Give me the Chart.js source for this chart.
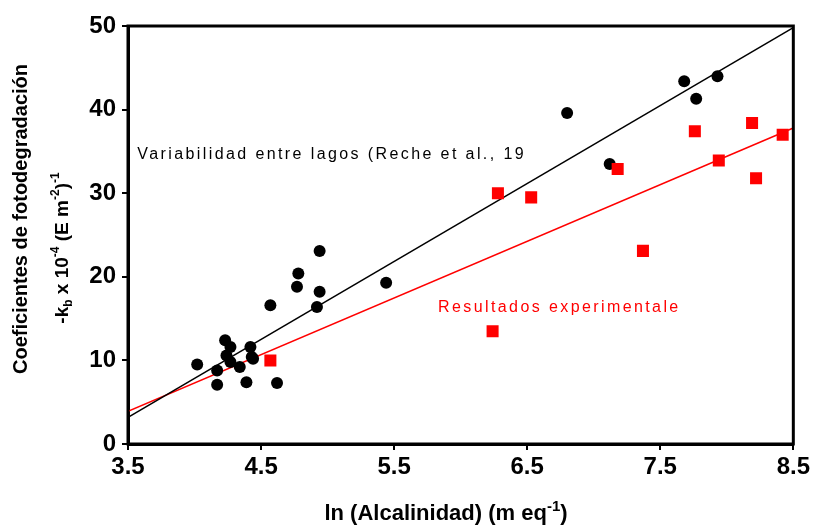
<!DOCTYPE html>
<html>
<head>
<meta charset="utf-8">
<script src="https://cdn.jsdelivr.net/npm/chart.js@4.4.1/dist/chart.umd.min.js"></script>
<style>
  html, body { margin: 0; padding: 0; background: #fff; }
  #wrap { width: 813px; height: 526px; }
</style>
</head>
<body>
<div id="wrap"><canvas id="fotoChart" width="813" height="526"></canvas></div>
<script>
// Variabilidad entre lagos (black points)
const lakesX = [4.02, 4.17, 4.17, 4.23, 4.27, 4.24, 4.27, 4.34, 4.39, 4.42, 4.43, 4.44, 4.62,
                4.57, 4.78, 4.77, 4.94, 4.92, 4.94, 5.44, 6.80, 7.12, 7.68, 7.77, 7.93];
const lakesY = [9.5, 8.8, 7.1, 12.4, 11.6, 10.6, 9.8, 9.2, 7.4, 11.6, 10.4, 10.2, 7.3,
                16.6, 20.4, 18.8, 18.2, 16.4, 23.1, 19.3, 39.6, 33.5, 43.4, 41.3, 44.0];

// Resultados experimentales (red squares)
const expX = [4.57, 6.24, 6.28, 6.53, 7.18, 7.37, 7.76, 7.94, 8.19, 8.22, 8.42];
const expY = [10.0, 13.5, 30.0, 29.5, 32.9, 23.1, 37.4, 33.9, 38.4, 31.8, 37.0];

// Regression lines (end points)
const lakesFitX = [3.5, 8.5];
const lakesFitY = [3.2, 49.8];
const expFitX = [3.5, 8.5];
const expFitY = [3.9, 37.8];

// Axis ticks
const xTicks = [3.5, 4.5, 5.5, 6.5, 7.5, 8.5];
const yTicks = [0, 10, 20, 30, 40, 50];

const toPoints = (xs, ys) => xs.map((x, i) => ({ x: x, y: ys[i] }));

const sans = '"Liberation Sans", Arial, sans-serif';
const tickFont = { family: sans, size: 24, weight: 'bold' };

// Frame, axis titles and in-plot labels
const textPlugin = {
    id: 'texts',
    afterDraw(chart) {
        const ctx = chart.ctx;
        const a = chart.chartArea;
        const xs = chart.scales.x;
        const ys = chart.scales.y;
        ctx.save();

        // box around plot
        ctx.strokeStyle = '#000';
        ctx.lineWidth = 3;
        ctx.strokeRect(a.left, a.top, a.right - a.left, a.bottom - a.top);

        // in-plot labels
        ctx.textBaseline = 'middle';
        ctx.textAlign = 'left';
        ctx.font = '16px ' + sans;
        ctx.letterSpacing = '2.4px';
        ctx.fillStyle = '#000';
        ctx.fillText('Variabilidad entre lagos (Reche et al., 19', xs.getPixelForValue(3.57), ys.getPixelForValue(34.6));
        ctx.fillStyle = '#ff0000';
        ctx.fillText('Resultados experimentale', xs.getPixelForValue(5.83), ys.getPixelForValue(16.3));
        ctx.letterSpacing = '0px';

        // x axis title
        ctx.fillStyle = '#000';
        ctx.textBaseline = 'alphabetic';
        const xParts = [
            ['ln (Alcalinidad) (m eq', 'bold 22px ' + sans, 0],
            ['-1', 'bold 15px ' + sans, -9],
            [')', 'bold 22px ' + sans, 0]
        ];
        drawParts(ctx, xParts, 446, 520);

        // y axis title, line 1
        ctx.save();
        ctx.translate(27, 219);
        ctx.rotate(-Math.PI / 2);
        ctx.textAlign = 'center';
        ctx.font = 'bold 20px ' + sans;
        ctx.fillText('Coeficientes de fotodegradación', 0, 0);
        ctx.restore();

        // y axis title, line 2
        ctx.save();
        ctx.translate(68, 248);
        ctx.rotate(-Math.PI / 2);
        const big = 'bold 19px ' + sans;
        const small = 'bold 12px ' + sans;
        const yParts = [
            ['-k', big, 0],
            ['b', small, 4],
            [' x 10', big, 0],
            ['-4', small, -9],
            [' (E m', big, 0],
            ['-2', small, -9],
            [')', big, 0],
            ['-1', small, -9]
        ];
        drawParts(ctx, yParts, 0, 0);
        ctx.restore();

        ctx.restore();
    }
};

// draw text pieces centered on cx, with vertical offsets for sub/superscripts
function drawParts(ctx, parts, cx, baseY) {
    ctx.textAlign = 'left';
    let total = 0;
    parts.forEach(p => { ctx.font = p[1]; total += ctx.measureText(p[0]).width; });
    let x = cx - total / 2;
    parts.forEach(p => {
        ctx.font = p[1];
        ctx.fillText(p[0], x, baseY + p[2]);
        x += ctx.measureText(p[0]).width;
    });
}

const ctx = document.getElementById('fotoChart').getContext('2d');
const fotoChart = new Chart(ctx, {
    type: 'scatter',
    data: {
        datasets: [
            {
                label: 'Ajuste lagos',
                type: 'line',
                data: toPoints(lakesFitX, lakesFitY),
                borderColor: '#000',
                borderWidth: 1.5,
                pointRadius: 0,
                fill: false,
                order: 3
            },
            {
                label: 'Ajuste experimental',
                type: 'line',
                data: toPoints(expFitX, expFitY),
                borderColor: '#ff0000',
                borderWidth: 1.5,
                pointRadius: 0,
                fill: false,
                order: 3
            },
            {
                label: 'Variabilidad entre lagos',
                data: toPoints(lakesX, lakesY),
                pointStyle: 'circle',
                pointRadius: 6,
                backgroundColor: '#000',
                borderColor: '#000',
                borderWidth: 0,
                order: 2
            },
            {
                label: 'Resultados experimentales',
                data: toPoints(expX, expY),
                pointStyle: 'rect',
                pointRadius: 8.5,
                backgroundColor: '#ff0000',
                borderColor: '#ff0000',
                borderWidth: 0,
                order: 1
            }
        ]
    },
    options: {
        responsive: false,
        animation: false,
        events: [],
        layout: { padding: { top: 26, right: 19, left: 0, bottom: 0 } },
        plugins: {
            legend: { display: false },
            tooltip: { enabled: false }
        },
        scales: {
            x: {
                type: 'linear',
                min: 3.5,
                max: 8.5,
                afterBuildTicks: axis => { axis.ticks = xTicks.map(v => ({ value: v })); },
                afterFit: axis => { axis.height = 82; },
                ticks: {
                    color: '#000',
                    font: tickFont,
                    padding: 3,
                    maxRotation: 0,
                    callback: v => v.toFixed(1)
                },
                grid: { drawOnChartArea: false, color: '#000', lineWidth: 2, tickLength: 6 },
                border: { display: true, color: '#000', width: 3 }
            },
            y: {
                min: 0,
                max: 50,
                afterBuildTicks: axis => { axis.ticks = yTicks.map(v => ({ value: v })); },
                afterFit: axis => { axis.width = 128; },
                ticks: {
                    color: '#000',
                    font: tickFont,
                    padding: 6
                },
                grid: { drawOnChartArea: false, color: '#000', lineWidth: 2, tickLength: 6 },
                border: { display: true, color: '#000', width: 3 }
            }
        }
    },
    plugins: [textPlugin]
});
</script>
</body>
</html>
